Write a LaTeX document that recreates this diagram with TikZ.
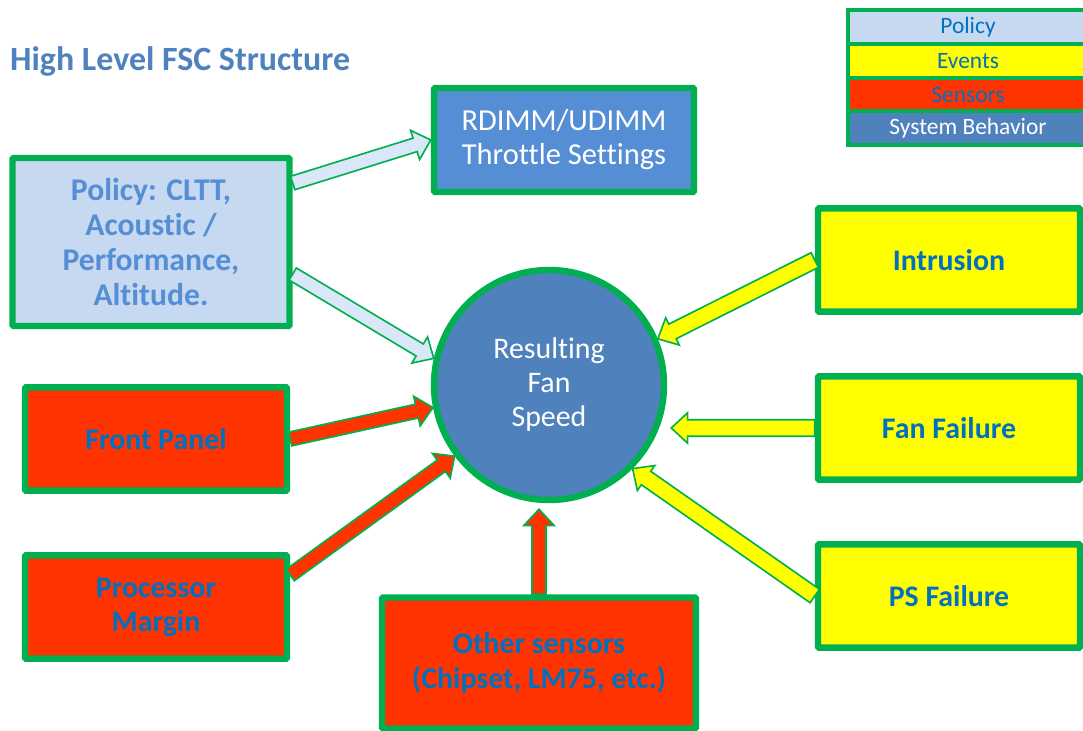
\documentclass[tikz,border=0pt]{standalone}
\usepackage{fontspec}
\setmainfont{Carlito}[Ligatures=NoCommon]
\usetikzlibrary{calc}

\definecolor{fscgreen}{HTML}{00B050}
\definecolor{policyfill}{HTML}{C6D9F1}
\definecolor{arrowblue}{HTML}{D9E7F9}
\definecolor{throttlefill}{HTML}{558ED5}
\definecolor{behaviorfill}{HTML}{4F81BD}
\definecolor{sensorred}{HTML}{FF3300}
\definecolor{eventyellow}{HTML}{FFFF00}
\definecolor{labelblue}{HTML}{0070C0}
\definecolor{policytext}{HTML}{558ED5}

% block arrow: [shaft half width]{fill}{from}{to}
\newcommand{\fatarrow}[4][6pt]{%
  \draw[draw=fscgreen, line width=1.4pt, fill=#2, line join=miter]
    let \p1=#3, \p2=#4,
        \n1={atan2(\y2-\y1,\x2-\x1)},
        \n2={veclen(\x2-\x1,\y2-\y1)}
    in [shift={(\p1)}, rotate=\n1]
    (0pt,#1) -- ({\n2*1pt-14pt},#1) -- ({\n2*1pt-14pt},13pt) -- ({\n2*1pt},0pt)
    -- ({\n2*1pt-14pt},-13pt) -- ({\n2*1pt-14pt},-#1) -- (0pt,-#1) -- cycle;}

\begin{document}
\begin{tikzpicture}[x=0.03cm, y=-0.03cm,
    box/.style={draw=fscgreen, line width=5.5pt, rounded corners=1pt,
      minimum width=7.86cm, minimum height=3.1cm, align=center,
      font=\fontsize{25.5}{29}\selectfont\bfseries, text=labelblue},
    legend/.style={draw=fscgreen, line width=3.4pt, minimum width=7.2cm,
      minimum height=1.02cm, font=\fontsize{20}{22}\selectfont, text=labelblue}]

    \useasboundingbox (0,0) rectangle (1083,731);

    % Titel
    \node[anchor=west, text=behaviorfill, font=\fontsize{29}{32}\selectfont\bfseries]
      (title) at (6,61) {High Level FSC Structure};

    % Legende
    \node[legend, fill=policyfill] (lpolicy) at (968,27) {Policy};
    \node[legend, fill=eventyellow] (levents) at (968,61) {Events};
    \node[legend, fill=sensorred] (lsensors) at (968,95) {Sensors};
    \node[legend, fill=behaviorfill, text=white] (lbehavior) at (968,128) {System Behavior};

    % Mitte
    \node[circle, draw=fscgreen, line width=5.5pt, fill=behaviorfill, minimum size=6.9cm,
      text=white, align=center, font=\fontsize{25.5}{29}\selectfont]
      (res) at (549,385) {Resulting\\Fan\\Speed};

    % Policy und Throttle
    \node[box, fill=policyfill, text=policytext, minimum width=8.31cm, minimum height=5.04cm,
      font=\fontsize{27}{30}\selectfont\bfseries]
      (policy) at (151,242) {Policy: CLTT,\\Acoustic /\\Performance,\\Altitude.};
    \node[box, fill=throttlefill, text=white, minimum width=7.8cm, minimum height=3.12cm,
      font=\fontsize{26}{29}\selectfont]
      (rdimm) at (564,140) {RDIMM/UDIMM\\Throttle Settings};

    % Sensoren
    \node[box, fill=sensorred] (front) at (156,439) {Front Panel};
    \node[box, fill=sensorred] (proc) at (156,607) {Processor\\Margin};
    \node[box, fill=sensorred, minimum width=9.42cm, minimum height=3.93cm,
      font=\fontsize{25.5}{30}\selectfont\bfseries]
      (other) at (539,663) {Other sensors\\(Chipset, LM75, etc.)};

    % Events
    \node[box, fill=eventyellow] (intr) at (949,260) {Intrusion};
    \node[box, fill=eventyellow] (fan) at (949,428) {Fan Failure};
    \node[box, fill=eventyellow] (ps) at (949,596) {PS Failure};

    % Pfeile Policy
    \fatarrow{arrowblue}{($(policy.east)+(0,-59)$)}{(rdimm.west)}
    \fatarrow{arrowblue}{($(policy.east)+(0,32)$)}{(res.167)}

    % Pfeile Sensoren
    \fatarrow{sensorred}{(front.east)}{(res.191)}
    \fatarrow{sensorred}{($(proc.east)+(0,-32)$)}{(res.217)}
    \fatarrow{sensorred}{(other.north)}{($(other.north |- res.south)+(0,6)$)}

    % Pfeile Events
    \fatarrow[7pt]{eventyellow}{(intr.west)}{(res.23)}
    \fatarrow[7pt]{eventyellow}{(fan.west)}{($(fan.west -| res.east)+(4,0)$)}
    \fatarrow[7pt]{eventyellow}{(ps.west)}{(res.315)}

\end{tikzpicture}
\end{document}
